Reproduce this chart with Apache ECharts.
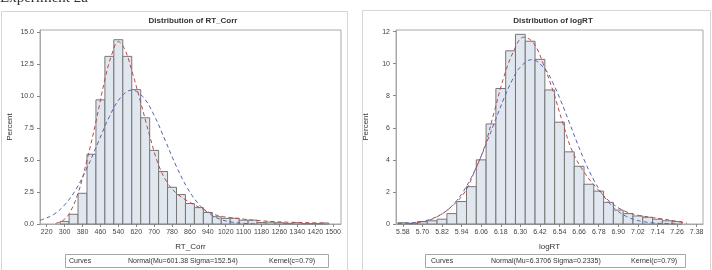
<!DOCTYPE html>
<html>
<head>
<meta charset="utf-8">
<script src="https://cdn.jsdelivr.net/npm/echarts@6/dist/echarts.min.js"></script>
<style>
  html, body { margin: 0; padding: 0; background: #fff; }
  #chart { width: 712px; height: 270px; }
</style>
</head>
<body>
<div id="chart"></div>
<script>
// ---- RT_Corr (left panel) ----
var rtBinWidth = 40;
var rtMids = [300, 340, 380, 420, 460, 500, 540, 580, 620, 660, 700, 740, 780, 820, 860, 900,
  940, 980, 1020, 1060, 1100, 1140, 1180, 1220, 1260, 1300, 1340, 1380, 1420, 1460];
var rtPct = [0.2, 0.76, 2.4, 5.45, 9.7, 13.1, 14.4, 13.1, 10.5, 8.3, 5.75, 4.1, 2.87, 2.3, 1.6, 1.28,
  0.9, 0.57, 0.44, 0.45, 0.3, 0.3, 0.12, 0.15, 0.1, 0.05, 0.1, 0.03, 0.03, 0.08];
var rtTicks = [220, 300, 380, 460, 540, 620, 700, 780, 860, 940, 1020, 1100, 1180, 1260, 1340, 1420, 1500];
var rtYTicks = [0, 2.5, 5, 7.5, 10, 12.5, 15];
// normal curve
var rtNormX = [190, 200, 250, 300, 350, 400, 450, 500, 550, 600, 650, 700, 750, 800, 850, 900, 950, 1000, 1050, 1100, 1150];
var rtNormY = [0.3, 0.35, 0.73, 1.49, 2.69, 4.38, 6.39, 8.39, 9.88, 10.46, 9.94, 8.49, 6.51, 4.48, 2.77, 1.54, 0.77, 0.34, 0.14, 0.05, 0.01];
// kernel curve
var rtKernX = [260, 290, 320, 360, 400, 440, 480, 510, 540, 570, 600, 640, 680, 720, 760, 800, 840, 880, 920, 960, 1000, 1040, 1100, 1160, 1240, 1320, 1400, 1470];
var rtKernY = [0.05, 0.25, 0.8, 2.4, 5.0, 8.0, 11.3, 13.2, 14.25, 13.6, 12.0, 9.5, 6.9, 4.6, 3.2, 2.4, 1.9, 1.5, 1.15, 0.8, 0.6, 0.5, 0.38, 0.28, 0.18, 0.13, 0.1, 0.06];

// ---- logRT (right panel) ----
var logBinWidth = 0.06;
var logMids = [5.58, 5.64, 5.70, 5.76, 5.82, 5.88, 5.94, 6.00, 6.06, 6.12, 6.18, 6.24, 6.30, 6.36, 6.42,
  6.48, 6.54, 6.60, 6.66, 6.72, 6.78, 6.84, 6.90, 6.96, 7.02, 7.08, 7.14, 7.20, 7.26];
var logPct = [0.08, 0.05, 0.15, 0.2, 0.3, 0.65, 1.4, 2.33, 4.0, 6.24, 8.45, 10.8, 11.83, 11.4, 10.27,
  8.36, 6.35, 4.5, 3.6, 2.48, 2.05, 1.35, 0.87, 0.65, 0.5, 0.42, 0.3, 0.2, 0.15];
var logTicks = [5.58, 5.70, 5.82, 5.94, 6.06, 6.18, 6.30, 6.42, 6.54, 6.66, 6.78, 6.90, 7.02, 7.14, 7.26, 7.38];
var logYTicks = [0, 2, 4, 6, 8, 10, 12];
var logNormX = [5.55, 5.60, 5.65, 5.70, 5.75, 5.80, 5.85, 5.90, 5.95, 6.00, 6.05, 6.10, 6.15, 6.20, 6.25, 6.30, 6.37,
  6.45, 6.50, 6.55, 6.60, 6.65, 6.70, 6.75, 6.80, 6.85, 6.90, 6.95, 7.00, 7.05, 7.10, 7.15, 7.25];
var logNormY = [0.02, 0.044, 0.09, 0.166, 0.3, 0.52, 0.85, 1.35, 2.02, 2.91, 3.99, 5.24, 6.56, 7.85, 8.97, 9.79, 10.25,
  9.67, 8.79, 7.63, 6.33, 5.01, 3.79, 2.74, 1.89, 1.25, 0.78, 0.47, 0.27, 0.15, 0.08, 0.04, 0.01];
var logKernX = [5.62, 5.70, 5.79, 5.88, 5.96, 6.02, 6.08, 6.14, 6.20, 6.26, 6.32, 6.38, 6.44, 6.50, 6.56, 6.62,
  6.70, 6.78, 6.86, 6.94, 7.02, 7.10, 7.18, 7.24, 7.32];
var logKernY = [0.02, 0.12, 0.45, 1.1, 2.0, 3.3, 4.8, 7.0, 9.2, 10.8, 11.65, 11.3, 10.0, 8.3, 6.3, 4.5,
  3.1, 2.1, 1.3, 0.8, 0.55, 0.42, 0.3, 0.2, 0.05];

function zip(a, b) {
  return a.map(function (v, i) { return [v, b[i]]; });
}

var FONT = 'Liberation Sans';
var BAR_FILL = '#e1e7ef';
var BAR_LINE = '#767676';
var NORM_COLOR = '#5566aa';
var KERN_COLOR = '#b24a4e';

function histRender(binWidth) {
  return function (params, api) {
    var mid = api.value(0), pct = api.value(1);
    var p0 = api.coord([mid - binWidth / 2, pct]);
    var p1 = api.coord([mid + binWidth / 2, 0]);
    return {
      type: 'rect',
      shape: { x: p0[0], y: p0[1], width: p1[0] - p0[0], height: p1[1] - p0[1] },
      style: { fill: BAR_FILL, stroke: BAR_LINE, lineWidth: 1 }
    };
  };
}

function xAxisCfg(idx, min, max, ticks, name, digits) {
  return {
    type: 'value', gridIndex: idx, min: min, max: max,
    name: name, nameLocation: 'middle', nameGap: 19,
    nameTextStyle: { fontFamily: FONT, fontSize: 8, color: '#333' },
    axisLine: { show: true, lineStyle: { color: '#a8a8a8', width: 1 } },
    axisTick: { show: true, customValues: ticks, length: 3, lineStyle: { color: '#888' } },
    axisLabel: {
      customValues: ticks, fontFamily: FONT, fontSize: 7, color: '#444', margin: 5,
      formatter: function (v) { return digits ? v.toFixed(digits) : String(v); }
    },
    splitLine: { show: false }
  };
}

function yAxisCfg(idx, max, ticks, digits) {
  return {
    type: 'value', gridIndex: idx, min: 0, max: max,
    name: 'Percent', nameLocation: 'middle', nameGap: 26,
    nameTextStyle: { fontFamily: FONT, fontSize: 8, color: '#333' },
    axisLine: { show: true, lineStyle: { color: '#a8a8a8', width: 1 } },
    axisTick: { show: true, customValues: ticks, length: 3, lineStyle: { color: '#888' } },
    axisLabel: {
      customValues: ticks, fontFamily: FONT, fontSize: 7, color: '#444', margin: 6,
      formatter: function (v) { return digits ? v.toFixed(digits) : String(v); }
    },
    splitLine: { show: false }
  };
}

function curve(idx, data, color) {
  return {
    type: 'line', xAxisIndex: idx, yAxisIndex: idx, data: data,
    smooth: 0.4, showSymbol: false, silent: true, z: 5,
    lineStyle: { color: color, width: 1, type: [4, 3] }
  };
}

function label(x, y, text, opts) {
  var s = {
    text: text, x: 0, y: 0, fill: '#333',
    font: (opts && opts.bold ? 'bold ' : '') + ((opts && opts.size) || 7) + 'px ' + FONT,
    textAlign: (opts && opts.align) || 'left', textVerticalAlign: 'middle'
  };
  return { type: 'text', x: x, y: y, style: s, z: 10 };
}

var chart = echarts.init(document.getElementById('chart'), null, { renderer: 'canvas' });

chart.setOption({
  animation: false,
  grid: [
    { left: 40, top: 30, width: 301, height: 194, show: true, borderColor: '#a8a8a8', borderWidth: 1, backgroundColor: '#fff' },
    { left: 396, top: 30, width: 307, height: 194, show: true, borderColor: '#a8a8a8', borderWidth: 1, backgroundColor: '#fff' }
  ],
  xAxis: [
    xAxisCfg(0, 190, 1535, rtTicks, 'RT_Corr', 0),
    xAxisCfg(1, 5.538, 7.419, logTicks, 'logRT', 2)
  ],
  yAxis: [
    yAxisCfg(0, 15.16, rtYTicks, 1),
    yAxisCfg(1, 12.1, logYTicks, 0)
  ],
  series: [
    { type: 'custom', xAxisIndex: 0, yAxisIndex: 0, renderItem: histRender(rtBinWidth), data: zip(rtMids, rtPct), z: 2 },
    curve(0, zip(rtNormX, rtNormY), NORM_COLOR),
    curve(0, zip(rtKernX, rtKernY), KERN_COLOR),
    { type: 'custom', xAxisIndex: 1, yAxisIndex: 1, renderItem: histRender(logBinWidth), data: zip(logMids, logPct), z: 2 },
    curve(1, zip(logNormX, logNormY), NORM_COLOR),
    curve(1, zip(logKernX, logKernY), KERN_COLOR)
  ],
  graphic: [
    // outer panel frames
    { type: 'rect', shape: { x: 1.5, y: 11.5, width: 346, height: 270 }, style: { fill: 'none', stroke: '#d6d6d6', lineWidth: 1 }, z: -1 },
    { type: 'rect', shape: { x: 362.5, y: 10.5, width: 348, height: 270 }, style: { fill: 'none', stroke: '#d6d6d6', lineWidth: 1 }, z: -1 },
    {
      type: 'text', x: 0, y: 6, z: 10,
      style: { text: 'Experiment 2a', font: '15px "Liberation Serif"', fill: '#333', textVerticalAlign: 'bottom' }
    },
    label(193, 21, 'Distribution of RT_Corr', { bold: true, size: 8, align: 'center' }),
    label(553, 21, 'Distribution of logRT', { bold: true, size: 8, align: 'center' }),
    // legend boxes
    { type: 'rect', shape: { x: 65.5, y: 254.5, width: 263, height: 13 }, style: { fill: '#fff', stroke: '#a8a8a8', lineWidth: 1 } },
    label(69, 261, 'Curves'),
    label(128, 261, 'Normal(Mu=601.38 Sigma=152.54)'),
    label(269, 261, 'Kernel(c=0.79)'),
    { type: 'rect', shape: { x: 425.5, y: 254.5, width: 260, height: 13 }, style: { fill: '#fff', stroke: '#a8a8a8', lineWidth: 1 } },
    label(431, 261, 'Curves'),
    label(491, 261, 'Normal(Mu=6.3706 Sigma=0.2335)'),
    label(631, 261, 'Kernel(c=0.79)')
  ]
});
</script>
</body>
</html>
